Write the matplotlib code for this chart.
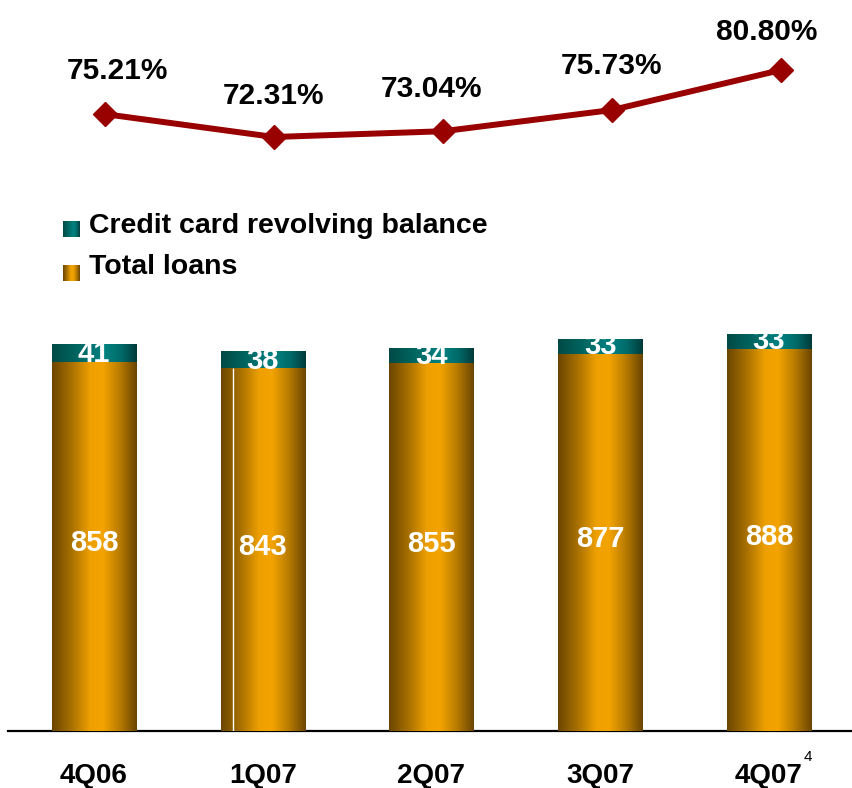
import numpy as np
import matplotlib
matplotlib.use("Agg")
import matplotlib.pyplot as plt
from matplotlib.colors import LinearSegmentedColormap

# ---- data ----
quarters = ["4Q06", "1Q07", "2Q07", "3Q07", "4Q07"]
total_loans = [858, 843, 855, 877, 888]
card_revolving = [41, 38, 34, 33, 33]
ratio_pct = [75.21, 72.31, 73.04, 75.73, 80.80]
legend_labels = ["Credit card revolving balance", "Total loans"]

plt.rcParams['font.family'] = ['Liberation Sans', 'DejaVu Sans']

W, H = 852, 788
fig = plt.figure(figsize=(W / 100, H / 100), dpi=100)


def fy(py):
    return 1 - py / H


orange_cmap = LinearSegmentedColormap.from_list(
    "org", [(0.0, "#6b4600"), (0.22, "#a56e00"), (0.45, "#eea000"),
            (0.6, "#f4a400"), (0.8, "#b87b00"), (1.0, "#6a4500")])
teal_cmap = LinearSegmentedColormap.from_list(
    "teal", [(0.0, "#004a46"), (0.3, "#006661"), (0.62, "#008282"),
             (0.82, "#006a68"), (1.0, "#003a3a")])
grad = np.linspace(0, 1, 256).reshape(1, -1)

# ---- bar axes ----
ax = fig.add_axes([8 / W, (H - 731) / H, (852 - 8) / W, (731 - 300) / H])
x = np.arange(len(quarters))
width = 0.5
b1 = ax.bar(x, total_loans, width=width, color="#f0a000", zorder=2)
b2 = ax.bar(x, card_revolving, width=width, bottom=total_loans, color="#008080", zorder=2)

for bars, cmap in ((b1, orange_cmap), (b2, teal_cmap)):
    for r in bars:
        x0, y0 = r.get_x(), r.get_y()
        ax.imshow(grad, extent=[x0, x0 + r.get_width(), y0, y0 + r.get_height()],
                  aspect="auto", cmap=cmap, interpolation="bilinear", zorder=3)

# thin white seam on the 1Q07 bar
ax.vlines(x[1] - width / 2 + 0.071, 0, total_loans[1], color="white", lw=1, zorder=4)

for xi, lv, cv in zip(x, total_loans, card_revolving):
    ax.annotate(f"{lv}", (xi, lv / 2), xytext=(0, 3), textcoords="offset pixels",
                ha="center", va="center", color="white",
                fontsize=21, fontweight="bold", zorder=5)
    ax.text(xi, lv - 1, f"{cv}", ha="center", va="baseline", color="white",
            fontsize=21, fontweight="bold", zorder=5)

ax.set_xlim((8 - 94) / 168.75, (852 - 94) / 168.75)
ax.set_ylim(0, 1002)
for s in ("top", "left", "right"):
    ax.spines[s].set_visible(False)
ax.spines["bottom"].set_linewidth(1.6)
ax.set_yticks([])
ax.set_xticks(x, quarters, fontsize=20, fontweight="bold")
ax.tick_params(axis="x", length=0, pad=23)

fig.text(808 / W, fy(757), "4", ha="center", va="center", fontsize=11)

# ---- line axes ----
ax2 = fig.add_axes([0, fy(200), 1, 200 / H])
ax2.plot(x, ratio_pct, color="#990000", lw=4.3, marker="D", ms=12,
         mfc="#990000", mec="#990000", clip_on=False)
ax2.set_xlim(-105 / 169, (852 - 105) / 169)
ax2.set_ylim(72.31 - 63 / 7.89, 72.31 + 137 / 7.89)
ax2.axis("off")
offsets = [(12, 35), (0, 33), (-11, 34), (-1, 36), (-14, 30)]
for xi, v, (dx, dy) in zip(x, ratio_pct, offsets):
    ax2.annotate(f"{v:.2f}%", (xi, v), xytext=(dx, dy), textcoords="offset pixels",
                 ha="center", va="baseline", fontsize=21.5, fontweight="bold",
                 annotation_clip=False)

# ---- legend ----
for i, (lab, cmap) in enumerate(zip(legend_labels, (teal_cmap, orange_cmap))):
    top = 221 + 44 * i
    lax = fig.add_axes([63 / W, fy(top + 16), 17 / W, 16 / H])
    lax.imshow(grad, aspect="auto", cmap=cmap, interpolation="bilinear")
    lax.axis("off")
    fig.text(89 / W, fy(233 + 41 * i), lab, ha="left", va="baseline",
             fontsize=20.5, fontweight="bold")

fig.savefig("out.png", dpi=100)
